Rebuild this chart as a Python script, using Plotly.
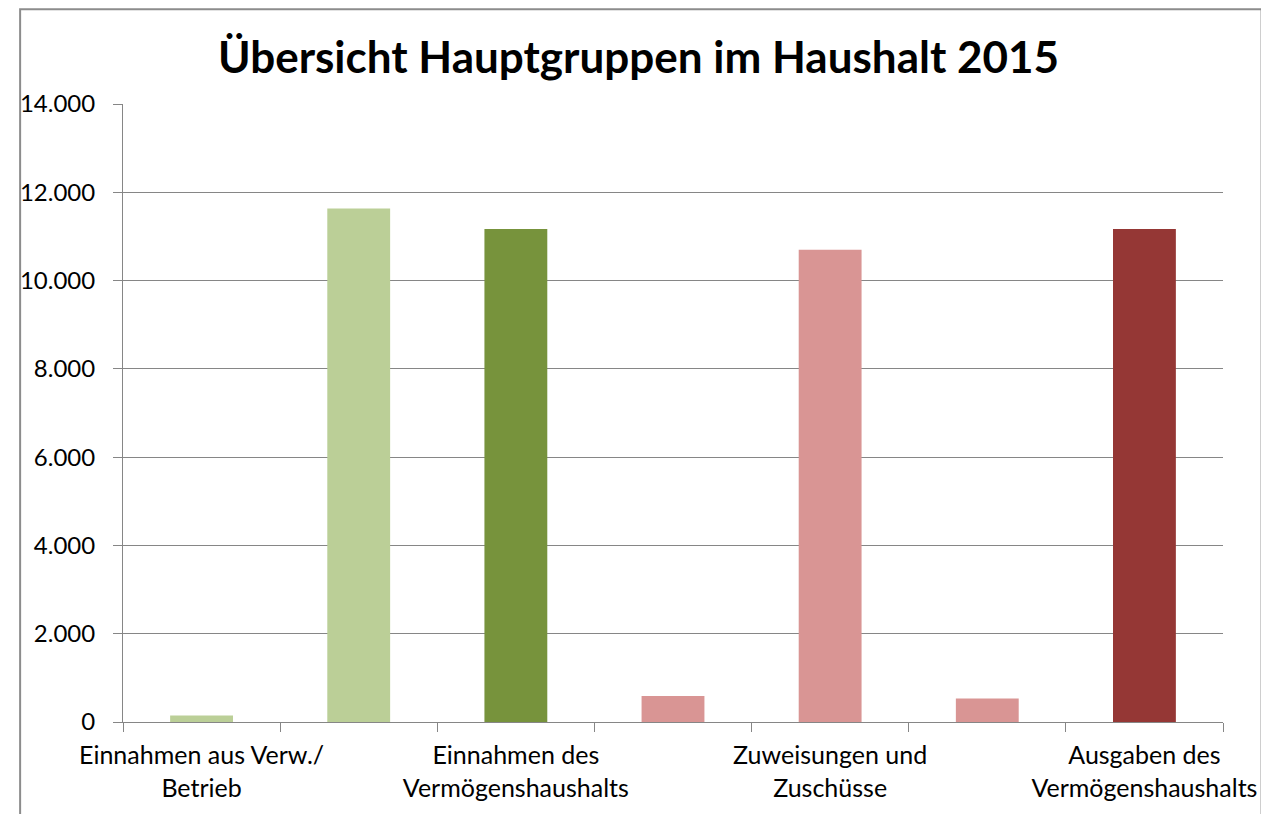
import plotly.graph_objects as go

categories = [
    "Einnahmen aus Verw./Betrieb",
    "Steuern und allgemeine Zuweisungen",
    "Einnahmen des Vermögenshaushalts",
    "Personalausgaben",
    "Zuweisungen und Zuschüsse",
    "Sächlicher Verwaltungs- und Betriebsaufwand",
    "Ausgaben des Vermögenshaushalts",
]
tick_labels = [
    "Einnahmen aus Verw./<br>Betrieb",
    "",
    "Einnahmen des<br>Vermögenshaushalts",
    "",
    "Zuweisungen und<br>Zuschüsse",
    "",
    "Ausgaben des<br>Vermögenshaushalts",
]
values = [150, 11630, 11170, 590, 10700, 530, 11170]
colors = ["#BBCF97", "#BBCF97", "#77933C", "#D99594", "#D99594", "#D99594", "#953735"]

fig = go.Figure(
    go.Bar(
        x=categories,
        y=values,
        marker=dict(color=colors, line=dict(width=0)),
        width=0.4,
        hoverinfo="x+y",
    )
)

FONT = "Lato, 'Open Sans', sans-serif"
W, H = 1261, 806
L, R, T, B = 105, 44, 96, 90
PW, PH = W - L - R, H - T - B

fig.update_layout(
    width=W,
    height=H,
    margin=dict(l=L, r=R, t=T, b=B),
    paper_bgcolor="white",
    plot_bgcolor="white",
    separators=",.",
    showlegend=False,
    font=dict(family=FONT, size=24, color="#000000"),
    title=dict(
        text="<b>Übersicht Hauptgruppen im Haushalt 2015</b>",
        x=0.5,
        xanchor="center",
        xref="container",
        y=0.939,
        yanchor="middle",
        font=dict(family=FONT, size=44, color="#000000"),
    ),
    shapes=[
        dict(
            type="rect",
            xref="paper",
            yref="paper",
            x0=(1 - L) / PW,
            x1=(1256 - L) / PW,
            y0=-(B + 5) / PH,
            y1=(PH + T - 1) / PH,
            line=dict(color="#8C8C8C", width=2),
            fillcolor="rgba(0,0,0,0)",
            layer="below",
        )
    ],
)

fig.update_xaxes(
    type="category",
    tickmode="array",
    tickvals=categories,
    ticktext=tick_labels,
    tickson="boundaries",
    ticks="outside",
    ticklen=9,
    tickcolor="#868686",
    tickwidth=1,
    showline=True,
    linecolor="#868686",
    linewidth=1,
    showgrid=False,
    tickangle=0,
    ticklabelstandoff=11,
    tickfont=dict(family=FONT, size=25, color="#000000"),
    range=[-0.5, 6.5],
)

fig.update_yaxes(
    range=[0, 14000],
    tickmode="array",
    tickvals=[0, 2000, 4000, 6000, 8000, 10000, 12000, 14000],
    tickformat=",d",
    ticks="outside",
    ticklen=9,
    tickcolor="#868686",
    showline=True,
    linecolor="#868686",
    linewidth=1,
    showgrid=True,
    gridcolor="#868686",
    gridwidth=1,
    zeroline=False,
    ticklabelstandoff=13,
    tickfont=dict(family=FONT, size=24, color="#000000"),
)

fig.write_html("out.html")
